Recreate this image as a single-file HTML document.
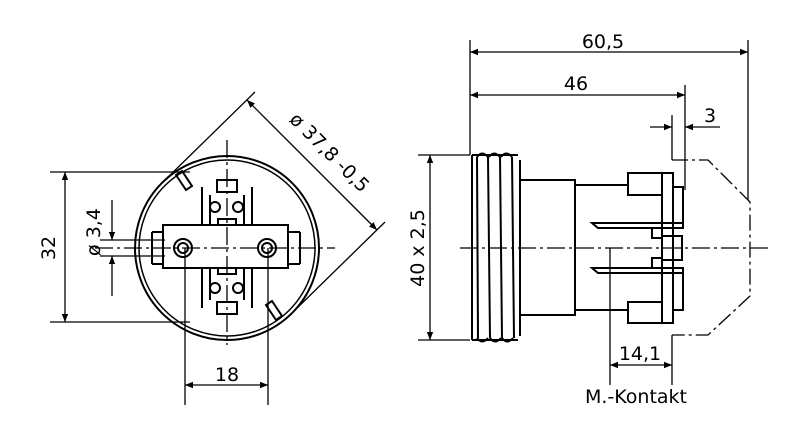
<!DOCTYPE html>
<html><head><style>html,body{margin:0;padding:0;background:#fff}svg{display:block}
text{font-family:"DejaVu Sans","Liberation Sans",sans-serif;font-size:19px;fill:#000}</style></head>
<body>
<svg width="800" height="434" viewBox="0 0 800 434" xmlns="http://www.w3.org/2000/svg">
<defs>
<marker id="a" viewBox="0 0 10 10" refX="10" refY="5" markerWidth="10" markerHeight="8" orient="auto-start-reverse" markerUnits="userSpaceOnUse"><path d="M0,1 L10,5 L0,9z" fill="#000"/></marker>
</defs>
<g stroke="#000" fill="none" stroke-width="1.3">
<!-- FRONT VIEW -->
<circle cx="227" cy="248" r="92" stroke-width="2"/>
<circle cx="227" cy="248" r="88" stroke-width="1.5"/>
<line x1="227" y1="140" x2="227" y2="345" stroke-dasharray="18,4,3,4"/>
<line x1="95" y1="248" x2="335" y2="248" stroke-dasharray="18,4,3,4"/>
<g stroke-width="2">
<rect x="163" y="225" width="125" height="43"/>
<path d="M202,225 V187 M252,225 V187 M202,268 V308 M252,268 V308"/>
<path d="M210,225 V195 M244,225 V195 M210,268 V300 M244,268 V300"/>
<rect x="217" y="180" width="20" height="12"/><rect x="217" y="302" width="20" height="12"/>
<rect x="218" y="219" width="18" height="6"/><rect x="218" y="268" width="18" height="6"/>
<circle cx="183" cy="248" r="9"/><circle cx="183" cy="248" r="5"/>
<circle cx="267" cy="248" r="9"/><circle cx="267" cy="248" r="5"/>
<circle cx="215" cy="207" r="5"/><circle cx="238" cy="207" r="5"/>
<circle cx="215" cy="288" r="5"/><circle cx="238" cy="288" r="5"/>
<path d="M152,232 H163 M152,264 H163 M288,232 H300 M288,264 H300 M152,232 V264 M300,232 V264"/>
<path d="M176,175 L186,190 L192,186 L182,171Z"/>
<path d="M266,305 L276,320 L282,316 L272,301Z"/>
</g>
<!-- 32 dim -->
<path d="M50,172 H190 M50,322 H190"/>
<line x1="65" y1="172" x2="65" y2="322" marker-start="url(#a)" marker-end="url(#a)"/>
<!-- 3,4 dim -->
<path d="M100,240 H165 M100,256 H165"/>
<line x1="112" y1="200" x2="112" y2="240" marker-end="url(#a)"/>
<line x1="112" y1="296" x2="112" y2="256" marker-end="url(#a)"/>
<!-- 18 dim -->
<path d="M185,248 V405 M268,248 V405"/>
<line x1="185" y1="385" x2="268" y2="385" marker-start="url(#a)" marker-end="url(#a)"/>
<!-- diameter 37.8 -->
<path d="M162,183 L255,92 M292,313 L385,222"/>
<line x1="247" y1="100" x2="377" y2="230" marker-start="url(#a)" marker-end="url(#a)"/>
<!-- SIDE VIEW -->
<line x1="460" y1="248" x2="768" y2="248" stroke-dasharray="18,4,3,4"/>
<g stroke-width="2">
<path d="M472,155 H518 M472,340 H518 M472,155 V340"/>
<path d="M477,157 L478,338 M488,157 L490,338 M500,157 L502,338 M512,157 L514,338 M520,160 V336"/>
<path d="M477,157 Q482,150 488,157 M489,157 Q494,150 500,157 M501,157 Q506,150 512,157 M477,338 Q482,345 488,338 M490,338 Q495,345 501,338 M502,338 Q507,345 513,338"/>
<rect x="520" y="180" width="55" height="135"/>
<path d="M575,185 H628 M575,310 H628"/>
<rect x="628" y="173" width="34" height="22"/><rect x="628" y="302" width="34" height="21"/>
<rect x="662" y="173" width="11" height="150"/>
<rect x="673" y="187" width="10" height="41"/><rect x="673" y="268" width="10" height="42"/>
<path d="M592,223 H683 V228 H598Z M592,268 H683 V273 H598Z"/>
<rect x="652" y="228" width="10" height="10"/><rect x="652" y="258" width="10" height="10"/>
<rect x="662" y="236" width="20" height="24"/>
</g>
<path d="M672,160 H708 L750,202 V296 L708,335 H672" stroke-dasharray="16,4,3,4"/>
<!-- dims side -->
<path d="M470,40 V155 M748,40 V200 M685,85 V190 M672,115 V160"/>
<line x1="470" y1="52" x2="748" y2="52" marker-start="url(#a)" marker-end="url(#a)"/>
<line x1="470" y1="95" x2="685" y2="95" marker-start="url(#a)" marker-end="url(#a)"/>
<line x1="650" y1="127" x2="672" y2="127" marker-end="url(#a)"/>
<line x1="720" y1="127" x2="685" y2="127" marker-end="url(#a)"/>
<path d="M418,155 H470 M418,340 H470"/>
<line x1="430" y1="155" x2="430" y2="340" marker-start="url(#a)" marker-end="url(#a)"/>
<path d="M610,248 V385 M672,335 V385"/>
<line x1="610" y1="365" x2="672" y2="365" marker-start="url(#a)" marker-end="url(#a)"/>
</g>
<text x="48" y="248" text-anchor="middle" transform="rotate(-90 48 248)" dy="7">32</text>
<text x="93" y="232" text-anchor="middle" transform="rotate(-90 93 232)" dy="7">ø 3,4</text>
<text x="227" y="381" text-anchor="middle">18</text>
<text x="325" y="157" text-anchor="middle" transform="rotate(45 325 157)">ø 37,8 -0,5</text>
<text x="603" y="48" text-anchor="middle">60,5</text>
<text x="576" y="90" text-anchor="middle">46</text>
<text x="710" y="122" text-anchor="middle">3</text>
<text x="417" y="248" text-anchor="middle" transform="rotate(-90 417 248)" dy="7">40 x 2,5</text>
<text x="640" y="360" text-anchor="middle">14,1</text>
<text x="636" y="403" text-anchor="middle">M.-Kontakt</text>
</svg>
</body></html>
